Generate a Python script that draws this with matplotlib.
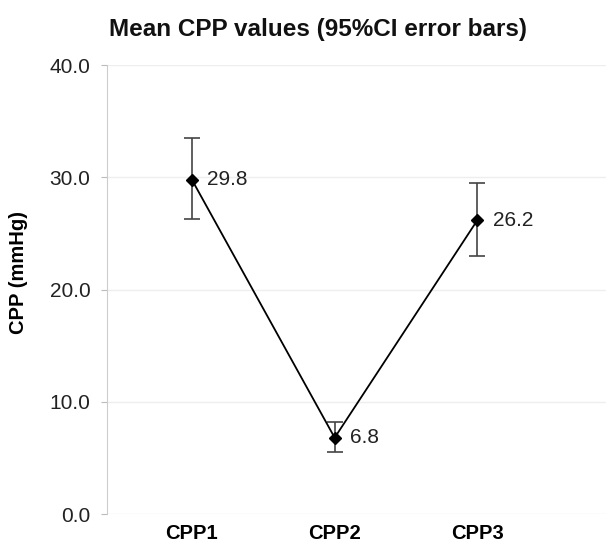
import matplotlib
matplotlib.use("Agg")
import matplotlib.pyplot as plt
import numpy as np

plt.rcParams['font.family'] = ['Liberation Sans', 'DejaVu Sans']

cats = ["CPP1", "CPP2", "CPP3"]
means = [29.8, 6.8, 26.2]
ci_low = [26.3, 5.5, 23.0]
ci_high = [33.5, 8.2, 29.5]

x = np.arange(len(cats))
fig = plt.figure(figsize=(6.06, 5.43), dpi=100)
ax = fig.add_axes([0.1766, 0.0534, 0.8234, 0.8266])

yerr = [np.array(means) - np.array(ci_low), np.array(ci_high) - np.array(means)]
ax.errorbar(x, means, yerr=yerr, fmt="none", ecolor="#444444", elinewidth=1.2, capsize=6, capthick=1.2, zorder=3)
ax.plot(x, means, "-", color="black", lw=1.3, marker="D", ms=6, zorder=4)
for xi, m in zip(x, means):
    ax.annotate(f"{m:.1f}", (xi, m), textcoords="offset points", xytext=(11, 0),
                ha="left", va="center", fontsize=15, color="#222222")

ax.set_xlim(-0.594, 2.9)
ax.set_ylim(0, 40)
ax.set_yticks([0, 10, 20, 30, 40])
ax.set_yticklabels([f"{v:.1f}" for v in [0, 10, 20, 30, 40]], fontsize=15, color="#222222")
ax.set_xticks(x)
ax.set_xticklabels(cats, fontsize=14.5, fontweight="bold")
ax.tick_params(axis="x", length=0, pad=7)
ax.tick_params(axis="y", length=4, color="#bbbbbb", pad=8)
ax.grid(axis="y", color="#eeeeee", lw=1)
ax.set_axisbelow(True)
for s in ["top", "right", "bottom"]:
    ax.spines[s].set_visible(False)
ax.spines["left"].set_color("#cccccc")
ax.set_ylabel("CPP (mmHg)", fontsize=14.5, fontweight="bold")
ax.yaxis.set_label_coords(-0.158, 0.539)
fig.text(0.525, 0.945, "Mean CPP values (95%CI error bars)", ha="center", va="center",
         fontsize=17.5, fontweight="bold", color="#111111")

fig.savefig("out.png", dpi=100)
